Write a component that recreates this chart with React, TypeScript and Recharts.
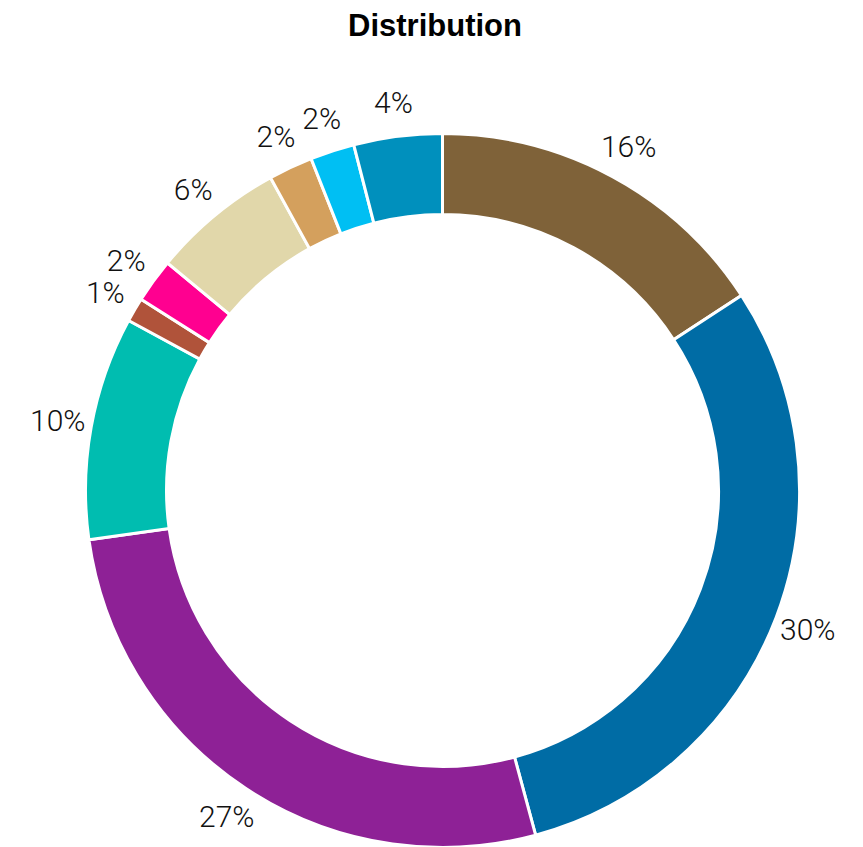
import React from "react";
import { PieChart, Pie, Cell } from "recharts";

const categories = ["A", "B", "C", "D", "E", "F", "G", "H", "I", "J"];
const values = [15.8, 30.0, 27.0, 10.1, 1.1, 2.0, 6.0, 2.0, 2.0, 4.0];
const colors = [
  "#7f6239",
  "#006ca5",
  "#8e2196",
  "#00bdb0",
  "#b0533a",
  "#ff0090",
  "#e1d7aa",
  "#d4a05d",
  "#00bff3",
  "#0090bd",
];

const data = categories.map((name, i) => ({ name, value: values[i] }));

const RAD = Math.PI / 180;

const renderLabel = (props: any) => {
  const { cx, cy, midAngle, outerRadius, percent } = props;
  const r = outerRadius + 34;
  const x = cx + r * Math.cos(-midAngle * RAD);
  const y = cy + r * Math.sin(-midAngle * RAD);
  return (
    <text
      x={x}
      y={y}
      textAnchor="middle"
      dominantBaseline="central"
      fill="#111"
      fontSize={30}
      fontWeight={300}
      fontFamily="Roboto, 'Liberation Sans', sans-serif"
    >
      {Math.round(percent * 100)}%
    </text>
  );
};

export default function App() {
  return (
    <div style={{ position: "absolute", left: 0, top: 0, width: 863, height: 847, background: "#fff" }}>
      <div
        style={{
          position: "absolute",
          left: 0,
          top: 8,
          width: 870,
          textAlign: "center",
          fontFamily: "'Liberation Sans', Arial, sans-serif",
          fontWeight: 700,
          fontSize: 31,
          color: "#000",
        }}
      >
        Distribution
      </div>
      <PieChart width={863} height={847} margin={{ top: 0, right: 0, bottom: 0, left: 0 }}>
        <Pie
          data={data}
          dataKey="value"
          nameKey="name"
          cx={442.5}
          cy={490.5}
          innerRadius={276}
          outerRadius={357}
          startAngle={90}
          endAngle={-270}
          stroke="#fff"
          strokeWidth={3}
          label={renderLabel}
          labelLine={false}
          isAnimationActive={false}
        >
          {data.map((d, i) => (
            <Cell key={d.name} fill={colors[i]} />
          ))}
        </Pie>
      </PieChart>
    </div>
  );
}
